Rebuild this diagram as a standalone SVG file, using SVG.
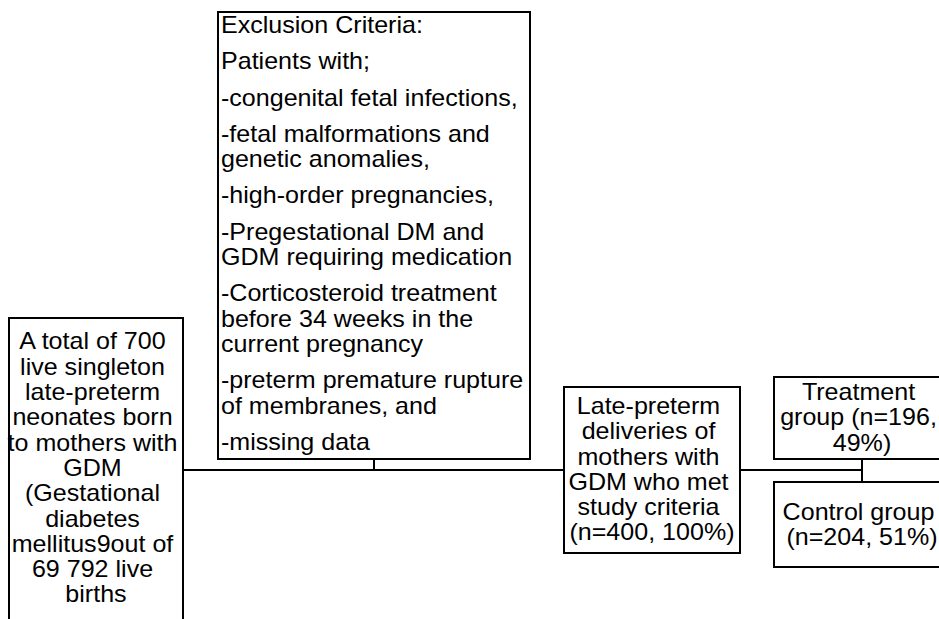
<svg xmlns="http://www.w3.org/2000/svg" width="939" height="619" viewBox="0 0 939 619">
<style>
.box{fill:#fff;stroke:#000;stroke-width:2}
.ln{fill:none;stroke:#000;stroke-width:2}
.t{font-family:"Liberation Sans",Arial,sans-serif;font-size:23px;fill:#000}
.c{text-anchor:middle}
</style>
<rect width="939" height="619" fill="#fff"/>
<g id="connectors">
<path class="ln" d="M183 470H564"/>
<path class="ln" d="M374 459V470"/>
<path class="ln" d="M740 470H862"/>
<path class="ln" d="M862 459V482"/>
</g>
<g id="total">
<rect class="box" x="9" y="318" width="174" height="320"/>
<text class="t c" transform="scale(1.09,1)">
<tspan x="88.07" y="349.5">A total of 700</tspan>
<tspan x="88.07" y="374.8">live singleton</tspan>
<tspan x="88.07" y="400.1">late-preterm</tspan>
<tspan x="88.07" y="425.4">neonates born</tspan>
<tspan x="88.07" y="450.7">to mothers with</tspan>
<tspan x="88.07" y="476">GDM</tspan>
<tspan x="88.07" y="501.3">(Gestational</tspan>
<tspan x="88.07" y="526.6">diabetes</tspan>
<tspan x="88.07" y="551.9">mellitus9out of</tspan>
<tspan x="88.07" y="577.2">69 792 live</tspan>
<tspan x="88.07" y="602.5">births</tspan>
</text>
</g>
<g id="exclusion">
<rect class="box" x="218" y="12" width="312" height="447"/>
<text class="t" transform="scale(1.09,1)">
<tspan x="202.75" y="33">Exclusion Criteria:</tspan>
<tspan x="202.75" y="69.3">Patients with;</tspan>
<tspan x="202.75" y="105.6">-congenital fetal infections,</tspan>
<tspan x="202.75" y="141.9">-fetal malformations and</tspan>
<tspan x="202.75" y="167.2">genetic anomalies,</tspan>
<tspan x="202.75" y="203.5">-high-order pregnancies,</tspan>
<tspan x="202.75" y="239.8">-Pregestational DM and</tspan>
<tspan x="202.75" y="265.1">GDM requiring medication</tspan>
<tspan x="202.75" y="301.4">-Corticosteroid treatment</tspan>
<tspan x="202.75" y="326.7">before 34 weeks in the</tspan>
<tspan x="202.75" y="352">current pregnancy</tspan>
<tspan x="202.75" y="388.3">-preterm premature rupture</tspan>
<tspan x="202.75" y="413.6">of membranes, and</tspan>
<tspan x="202.75" y="449.9">-missing data</tspan>
</text>
</g>
<g id="eligible">
<rect class="box" x="564" y="387" width="176" height="166"/>
<text class="t c" transform="scale(1.09,1)">
<tspan x="598.17" y="414">Late-preterm</tspan>
<tspan x="598.17" y="439.3">deliveries of</tspan>
<tspan x="598.17" y="464.6">mothers with</tspan>
<tspan x="598.17" y="489.9">GDM who met</tspan>
<tspan x="598.17" y="515.2">study criteria</tspan>
<tspan x="598.17" y="540.5">(n=400, 100%)</tspan>
</text>
</g>
<g id="treatment">
<rect class="box" x="774" y="377" width="180" height="82"/>
<text class="t c" transform="scale(1.09,1)">
<tspan x="790.83" y="400">Treatment</tspan>
<tspan x="790.83" y="425.3">group (n=196,</tspan>
<tspan x="790.83" y="450.6">49%)</tspan>
</text>
</g>
<g id="control">
<rect class="box" x="774" y="482" width="180" height="85"/>
<text class="t c" transform="scale(1.09,1)">
<tspan x="790.83" y="520">Control group</tspan>
<tspan x="790.83" y="545.3">(n=204, 51%)</tspan>
</text>
</g>
</svg>
